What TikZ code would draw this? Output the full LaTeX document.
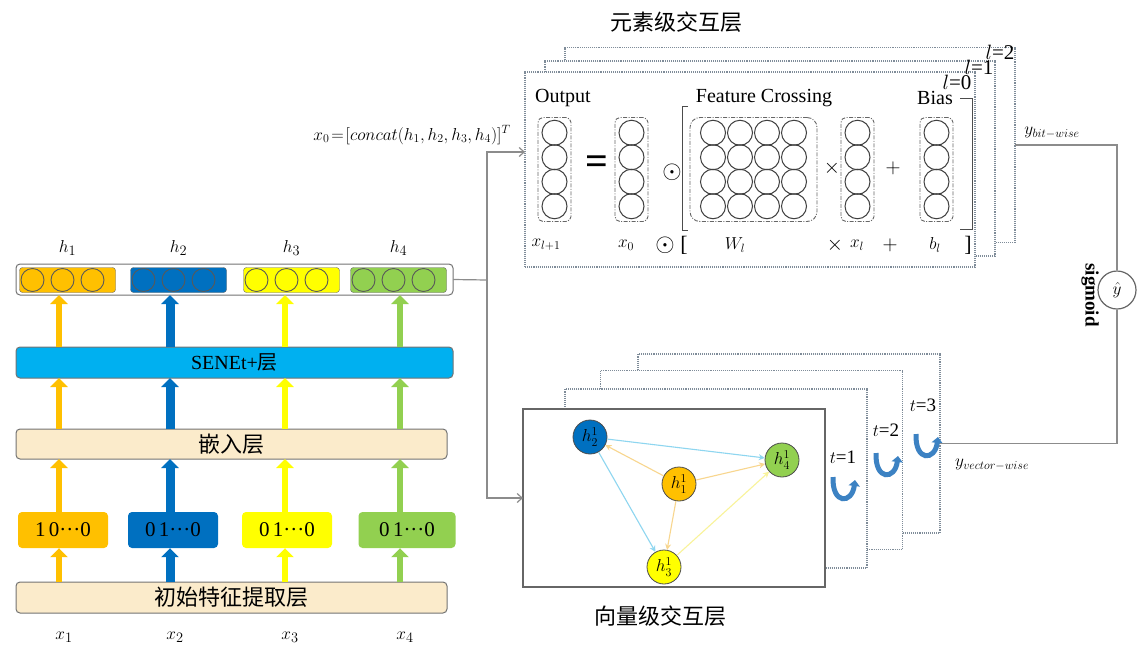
\documentclass[tikz,border=0pt]{standalone}
\usepackage{fontspec}
\setmainfont{Liberation Serif}
\newfontfamily\cjk{Noto Sans CJK SC}
\usetikzlibrary{arrows.meta,calc}

\definecolor{hone}{HTML}{FFC000}
\definecolor{htwo}{HTML}{0070C0}
\definecolor{hthree}{HTML}{FFFF00}
\definecolor{hfour}{HTML}{92D050}
\definecolor{senet}{HTML}{00B0F0}
\definecolor{beige}{HTML}{FBEBCB}
\definecolor{dotgray}{HTML}{7F8C99}
\definecolor{conngray}{HTML}{8C8C8C}
\definecolor{uturn}{HTML}{3C82C3}
\definecolor{edgecyan}{HTML}{8ED6F0}
\definecolor{edgeorange}{HTML}{F8D68E}
\definecolor{edgeyellow}{HTML}{F9F39A}

\tikzset{
  layer/.style={draw=black!55, line width=1pt, rounded corners=4pt, inner sep=0pt, outer sep=0pt, minimum height=31pt},
  hcell/.style={draw=black!60, rounded corners=3pt, inner sep=0pt, minimum width=96pt, minimum height=25pt},
  hdot/.style={circle, draw=black!65, line width=0.9pt, minimum size=23pt, inner sep=0pt},
  onehot/.style={rounded corners=4pt, inner sep=0pt, minimum width=90pt, minimum height=36pt, font=\fontsize{21}{24}\selectfont},
  uparr/.style={line width=#1, -{Triangle[length=9pt,width=17pt]}},
  uparr/.default=6pt,
  dotbox/.style={draw=dotgray, densely dotted, line width=1.1pt, fill=white, inner sep=0pt, outer sep=0pt},
  colbox/.style={draw=black!60, line width=0.9pt, rounded corners=5pt, inner sep=0pt, dash pattern=on 4pt off 1.5pt on 1pt off 1.5pt},
  cell/.style={circle, draw=black!75, line width=1pt, minimum size=25pt, inner sep=0pt},
  conn/.style={draw=conngray, line width=1.2pt},
  gnode/.style={circle, draw=black!70, line width=0.8pt, minimum size=34pt, inner sep=0pt, font=\fontsize{17}{20}\selectfont},
  gedge/.style={line width=1.1pt, -{Stealth[length=6pt,width=6pt]}},
  lbl/.style={font=\fontsize{18}{22}\selectfont, inner sep=1pt},
  big/.style={font=\fontsize{22}{26}\selectfont, inner sep=0pt},
  uarrow/.style={uturn, line width=5pt, -{Triangle[length=6pt,width=11pt]}},
}

\begin{document}
\begin{tikzpicture}[x=1pt,y=-1pt]
\useasboundingbox (0,0) rectangle (1146,654);

% left: layers
\node[layer, fill=white, minimum width=437pt] (hrow) at (234.5,279.5) {};
\foreach \n/\cx/\col in {1/67.5/hone, 2/178.5/htwo, 3/291.5/hthree, 4/398.5/hfour} {
  \node[hcell, fill=\col] (h\n) at (\cx,280) {};
  \foreach \dx [count=\k] in {-35,-5,25}
    \node[hdot, fill=\col] (hc\n\k) at ($(h\n)+(\dx,0)$) {};
  \node[lbl, font=\fontsize{19}{22}\selectfont] (hl\n) at ($(h\n)+(0,-32)$) {$h_\n$};
}
\node[layer, fill=senet, minimum width=437pt, font=\fontsize{20}{24}\selectfont] (senet) at (234.5,362.5) {SENEt+{\cjk 层}};
\node[layer, fill=beige, minimum width=431pt, minimum height=30pt, font=\cjk\fontsize{22}{26}\selectfont] (emb) at (231.5,444) {嵌入层};
\node[layer, fill=beige, minimum width=431pt, font=\cjk\fontsize{22}{26}\selectfont] (init) at (231.5,597.5) {初始特征提取层};

\node[onehot, fill=hone] (oh1) at (63,530) {1\,0···0};
\node[onehot, fill=htwo] (oh2) at (173,530) {0\,1···0};
\node[onehot, fill=hthree] (oh3) at (287,530) {0\,1···0};
\node[onehot, fill=hfour, minimum width=97pt] (oh4) at (407,530) {0\,1···0};

\foreach \n/\ax/\col/\w in {1/59/hone/6pt, 2/170/htwo/9pt, 3/285/hthree/6pt, 4/400/hfour/6pt} {
  \coordinate (col\n) at (\ax,0);
  \draw[uparr=\w, \col] (init.north -| col\n) -- (oh\n.south -| col\n);
  \draw[uparr=\w, \col] (oh\n.north -| col\n) -- (emb.south -| col\n);
  \draw[uparr=\w, \col] (emb.north -| col\n) -- (senet.south -| col\n);
  \draw[uparr=\w, \col] (senet.north -| col\n) -- (hrow.south -| col\n);
  \node[lbl, font=\fontsize{19}{22}\selectfont] (xl\n) at ($(col\n)+(5,637)$) {$x_\n$};
}

% element-wise interaction
\node[big, font=\cjk\fontsize{22}{26}\selectfont] (title1) at (676,22) {元素级交互层};
\node[dotbox, minimum width=450pt, minimum height=195pt] (b3) at (790,145) {};
\node[dotbox, minimum width=450pt, minimum height=195pt] (b2) at (770,158.5) {};
\node[dotbox, minimum width=450pt, minimum height=195pt] (b1) at (750,169.5) {};
\node[big, font=\fontsize{21}{24}\selectfont] (l2) at (1000,52) {$l$=2};
\node[big, font=\fontsize{21}{24}\selectfont] (l1) at (979,67) {$l$=1};
\node[big, font=\fontsize{21}{24}\selectfont] (l0) at (957,82) {$l$=0};

\node[big, font=\fontsize{20}{24}\selectfont] (outt) at (563,98) {Output};
\node[big, font=\fontsize{20}{24}\selectfont] (fct) at (764,98) {Feature Crossing};
\node[big, font=\fontsize{20}{24}\selectfont] (biast) at (935,98) {Bias};

\foreach \cname/\cx in {out/554.5, xz/631.5, xv/857.5, bias/936.5} {
  \node[colbox, minimum width=33pt, minimum height=104pt] (\cname) at (\cx,169.5) {};
  \foreach \r [count=\k] in {-36.75,-12.25,12.25,36.75}
    \node[cell] (\cname\k) at ($(\cname)+(0,\r)$) {};
}
\node[colbox, rounded corners=10pt, minimum width=127pt, minimum height=104pt] (wmat) at (753.5,169.5) {};
\foreach \c [count=\i] in {-40.5,-13.5,13.5,40.5}
  \foreach \r [count=\j] in {-36.75,-12.25,12.25,36.75}
    \node[cell] (w\i\j) at ($(wmat)+(\c,\r)$) {};

\node[font=\bfseries\fontsize{40}{40}\selectfont, inner sep=0] (eq) at (597,165) {=};
\node[big, font=\fontsize{24}{26}\selectfont] (od1) at (672,172) {$\odot$};
\node[big] (tm1) at (832,168) {$\times$};
\node[big] (pl1) at (893,168) {$+$};
\draw[line width=1pt, black!70] (688,106) -- (682,106) -- (682,230) -- (688,230);
\draw[line width=1pt, black!70] (960,98) -- (972,98) -- (972,229) -- (960,229);

\node[lbl] (r1) at (546,245) {$x_{l+1}$};
\node[lbl] (r2) at (626,245) {$x_0$};
\node[big, font=\fontsize{24}{26}\selectfont] (r3) at (665,245) {$\odot$};
\node[big] (r4) at (684,245) {[};
\node[lbl] (r5) at (735,245) {$W_l$};
\node[big] (r6) at (835,245) {$\times$};
\node[lbl] (r7) at (857,245) {$x_l$};
\node[big] (r8) at (890,245) {$+$};
\node[lbl] (r9) at (935,245) {$b_l$};
\node[big] (r10) at (968,245) {]};

\node[lbl, font=\fontsize{17}{20}\selectfont] (cat) at (412,135) {$x_0\!=\![concat(h_1,h_2,h_3,h_4)]^T$};

% vector-wise interaction
\node[dotbox, minimum width=302pt, minimum height=179pt] (g4) at (789,443.5) {};
\node[dotbox, minimum width=302pt, minimum height=179pt] (g3) at (751.5,460) {};
\node[dotbox, minimum width=302pt, minimum height=179pt] (g2) at (716,478.5) {};
\node[draw=black!60, line width=1.2pt, fill=white, minimum width=302pt, minimum height=178pt, inner sep=0pt, outer sep=0pt] (g1) at (674,498) {};

\node[gnode, fill=htwo] (v2) at (590,437) {$h^1_2$};
\node[gnode, fill=hfour] (v4) at (782,460) {$h^1_4$};
\node[gnode, fill=hone] (v1) at (679,484) {$h^1_1$};
\node[gnode, fill=hthree] (v3) at (664,567) {$h^1_3$};
\draw[gedge, edgecyan] (v2) -- (v4);
\draw[gedge, edgecyan] (v2) -- (v3);
\draw[gedge, edgeorange] (v1) -- (v2);
\draw[gedge, edgeorange] (v1) -- (v4);
\draw[gedge, edgeorange] (v1) -- (v3);
\draw[gedge, edgeyellow] (v3) -- (v4);

\node[big, font=\cjk\fontsize{22}{26}\selectfont] (title2) at (660,616) {向量级交互层};

\node[lbl, font=\fontsize{19}{22}\selectfont] (t1) at (843,457) {$t$=1};
\node[lbl, font=\fontsize{19}{22}\selectfont] (t2) at (886,430) {$t$=2};
\node[lbl, font=\fontsize{19}{22}\selectfont] (t3) at (923,405) {$t$=3};
\foreach \ux/\uy in {843/486, 886/462, 926/443}
  \draw[uarrow] ({\ux-10},{\uy-9}) .. controls ({\ux-11},{\uy+19}) and ({\ux+9},{\uy+18}) .. ({\ux+12},{\uy-6});

% connectors
\coordinate (split) at (487,280);
\coordinate (in1) at (525,152);
\draw[conn] (hrow.east) -- (split);
\draw[conn, -{Straight Barb[length=5pt,width=9pt]}] (split) |- (in1);
\draw[conn, -{Straight Barb[length=5pt,width=9pt]}] (split) |- (g1.west);

\node[circle, draw=black!60, line width=1.2pt, minimum size=38pt, inner sep=0pt, fill=white, font=\fontsize{18}{20}\selectfont] (yhat) at (1117,290) {$\hat{y}$};
\node[rotate=-90, font=\bfseries\fontsize{19}{22}\selectfont, inner sep=0pt] (sig) at (1090,295) {sigmoid};
\draw[conn] (b3.east) -| (yhat.north);
\draw[conn] (g4.east) -| (yhat.south);
\node[lbl] (ybit) at (1052,133) {$y_{bit-wise}$};
\node[lbl] (yvec) at (992,465) {$y_{vector-wise}$};

\end{tikzpicture}
\end{document}
